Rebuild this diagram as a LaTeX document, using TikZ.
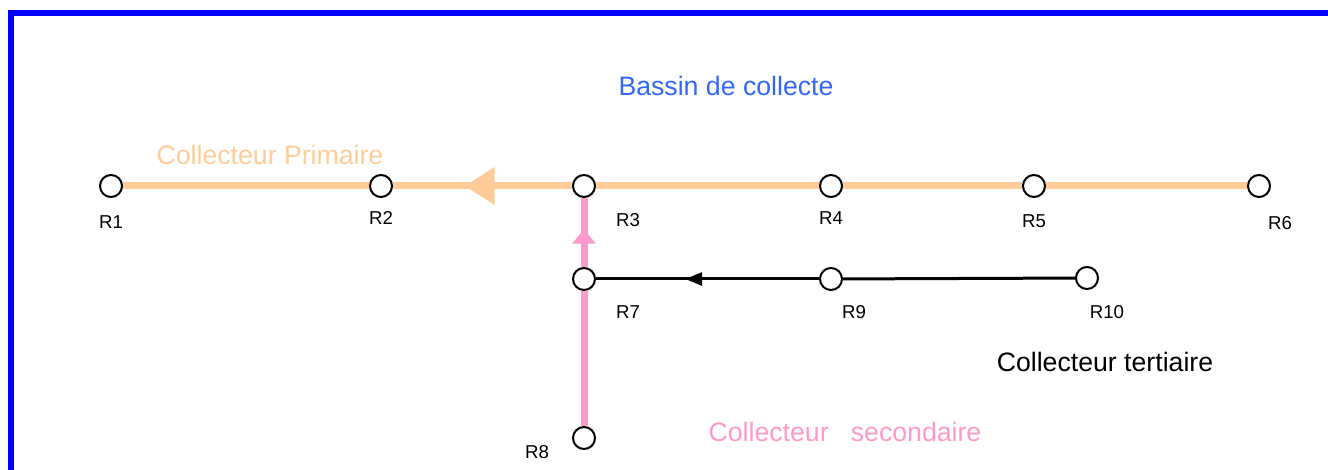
\documentclass[tikz,border=0pt]{standalone}
\usepackage{fontspec}
\setmainfont{Liberation Sans}
\usepackage{xcolor}
\usepackage{tikz}
\usetikzlibrary{arrows.meta, decorations.markings}
\definecolor{orangeC}{HTML}{FFCC99}
\definecolor{roseC}{HTML}{FF99CC}
\definecolor{bleuC}{HTML}{3366FF}
\tikzstyle{regard}    = [circle, draw=black, line width=1.5pt, fill=white, minimum size=16.5pt, inner sep=0pt]
\tikzstyle{etiquette} = [font=\fontsize{14}{16}\selectfont, inner sep=0pt]
\tikzstyle{titre}     = [font=\fontsize{20}{24}\selectfont, inner sep=0pt]
\tikzstyle{primaire}  = [orangeC, line width=5.25pt]
\tikzstyle{secondaire}= [roseC, line width=5.25pt]
\tikzstyle{tertiaire} = [black, line width=2.25pt]
\tikzset{every node/.style={align=center}}

\begin{document}
\begin{tikzpicture}[x=0.75pt, y=-0.75pt]
    \useasboundingbox (0,0) rectangle (1328,470);
    \draw [blue, line width=4.5pt] (1328,13) -- (11,13) -- (11,470);

    \node (R1)  at (111,186)  [regard] {};
    \node (R2)  at (381,186)  [regard] {};
    \node (R3)  at (584,186)  [regard] {};
    \node (R4)  at (831,186)  [regard] {};
    \node (R5)  at (1034,186) [regard] {};
    \node (R6)  at (1259,186) [regard] {};
    \node (R7)  at (584,279)  [regard] {};
    \node (R8)  at (584,438)  [regard] {};
    \node (R9)  at (831,279)  [regard] {};
    \node (R10) at (1087,278) [regard] {};

    \node (tR1)  at (111,222)  [etiquette] {R1};
    \node (tR2)  at (381,218)  [etiquette] {R2};
    \node (tR3)  at (628,220)  [etiquette] {R3};
    \node (tR4)  at (831,218)  [etiquette] {R4};
    \node (tR5)  at (1034,221) [etiquette] {R5};
    \node (tR6)  at (1280,223) [etiquette] {R6};
    \node (tR7)  at (628,312)  [etiquette] {R7};
    \node (tR8)  at (537,452)  [etiquette] {R8};
    \node (tR9)  at (854,312)  [etiquette] {R9};
    \node (tR10) at (1107,312) [etiquette] {R10};

    \node (bassin)     at (726,86)  [titre, text=bleuC]   {Bassin de collecte};
    \node (cprimaire)  at (270,155) [titre, text=orangeC] {Collecteur Primaire};
    \node (ctertiaire) at (1105,362) [titre]              {Collecteur tertiaire};
    \node (csecondaire) at (845,432) [titre, text=roseC]  {Collecteur\ \ \ secondaire};

    \draw [primaire] (R6) -- (R5) -- (R4) -- (R3);
    \draw [primaire, postaction={decorate, decoration={markings,
          mark=at position 0.6 with {\arrow{Triangle[length=22.5pt, width=27pt]}}}}] (R3) -- (R2);
    \draw [primaire] (R2) -- (R1);

    \draw [secondaire] (R8) -- (R7);
    \draw [secondaire, postaction={decorate, decoration={markings,
          mark=at position 0.55 with {\arrow{Triangle[length=11pt, width=17pt]}}}}] (R7) -- (R3);

    \draw [tertiaire] (R10) -- (R9);
    \draw [tertiaire, postaction={decorate, decoration={markings,
          mark=at position 0.6 with {\arrow{Triangle[length=12.75pt, width=9.75pt]}}}}] (R9) -- (R7);
\end{tikzpicture}
\end{document}
